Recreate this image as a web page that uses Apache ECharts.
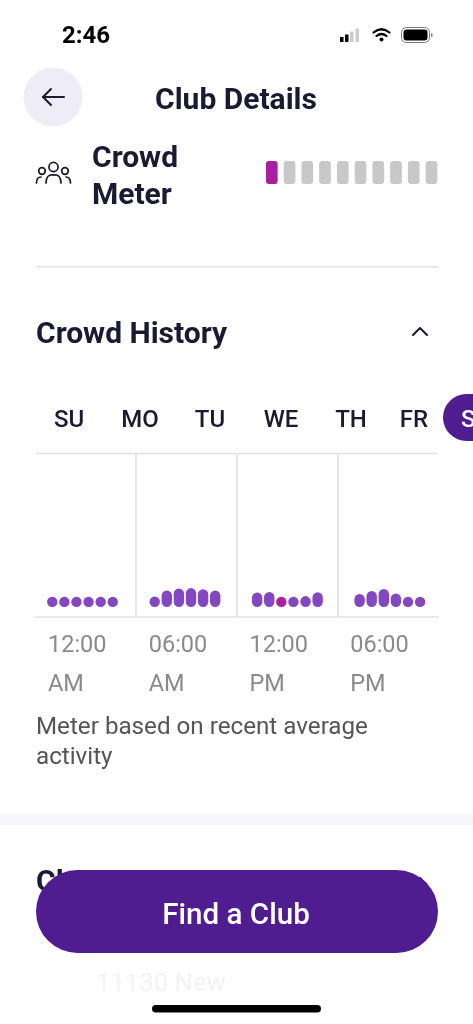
<!DOCTYPE html>
<html style="height: 100%">
    <head>
        <meta charset="utf-8">
        <title>Club Details</title>
        <script type="text/javascript" src="https://cdn.jsdelivr.net/npm/echarts@6/dist/echarts.min.js"></script>
    </head>
    <body style="height: 100%; margin: 0; background: #fff">
        <div id="container" style="width: 473px; height: 1024px"></div>
        <script type="text/javascript">

        // crowd level per hour, one list per 6 hour block
        var block1 = [6.4, 6.4, 6.4, 6.4, 6.4, 6.4];
        var block2 = [6.6, 10.3, 11.6, 11.8, 11.1, 10.3];
        var block3 = [9.0, 9.4, 6.4, 6.4, 6.8, 9.2];
        var block4 = [8.1, 10.0, 11.3, 8.5, 6.4, 6.4];
        var blocks = [block1, block2, block3, block4];
        var blockHours = [
            ['12a', '1a', '2a', '3a', '4a', '5a'],
            ['6a', '7a', '8a', '9a', '10a', '11a'],
            ['12p', '1p', '2p', '3p', '4p', '5p'],
            ['6p', '7p', '8p', '9p', '10p', '11p']
        ];
        var timeLabels = ['12:00\nAM', '06:00\nAM', '12:00\nPM', '06:00\nPM', ''];
        var days = ['SU', 'MO', 'TU', 'WE', 'TH', 'FR'];
        var nowBlock = 2;
        var nowHour = 2;
        var meterSegments = ['1', '2', '3', '4', '5', '6', '7', '8', '9', '10'];
        var meterLevel = [1, 1, 1, 1, 1, 1, 1, 1, 1, 1];
        var meterCurrent = 0;

        var FONT = 'Roboto';
        var DARK = '#1a1a33';
        var PURPLE = '#4f1d8f';

        var dom = document.getElementById("container");
        var myChart = echarts.init(dom, null, {width: 473, height: 1024});

        var grids = [];
        var xAxes = [];
        var yAxes = [];
        var series = [];

        // background grid, only the frame and time labels
        grids.push({left: 35, width: 403, top: 453, height: 164});
        xAxes.push({
            gridIndex: 0,
            type: 'category',
            boundaryGap: false,
            data: timeLabels,
            axisTick: {show: false},
            axisLine: {lineStyle: {color: '#e2e2e2', width: 1.6}},
            splitLine: {show: true, showMinLine: false, showMaxLine: false, interval: 0, lineStyle: {color: '#e2e2e2', width: 1.6}},
            axisLabel: {
                interval: 0,
                align: 'left',
                verticalAlign: 'top',
                margin: 10,
                padding: [0, 0, 0, 13],
                color: '#8a8a8a',
                fontFamily: FONT,
                fontSize: 23.5,
                lineHeight: 39
            }
        });
        yAxes.push({gridIndex: 0, type: 'value', show: false, min: 0, max: 100});

        // one small grid per block so the bars keep their own spacing
        blocks.forEach(function (vals, b) {
            var g = b + 1;
            grids.push({left: 46.2 + 102.45 * b, width: 72.6, top: 447, height: 160});
            xAxes.push({gridIndex: g, type: 'category', data: blockHours[b], show: false});
            yAxes.push({gridIndex: g, type: 'value', show: false, min: 0, max: 100});
            series.push({
                type: 'bar',
                xAxisIndex: g,
                yAxisIndex: g,
                barWidth: 10.4,
                silent: true,
                data: vals.map(function (v, i) {
                    return {
                        value: v,
                        itemStyle: {
                            color: (b === nowBlock && i === nowHour) ? '#a8209c' : '#8247c1',
                            borderRadius: 5.2
                        }
                    };
                })
            });
        });

        // crowd meter
        var mg = grids.length;
        grids.push({left: 262.9, width: 177.5, top: 161, height: 23});
        xAxes.push({gridIndex: mg, type: 'category', data: meterSegments, show: false});
        yAxes.push({gridIndex: mg, type: 'value', show: false, min: 0, max: 1});
        series.push({
            type: 'bar',
            xAxisIndex: mg,
            yAxisIndex: mg,
            barWidth: 11.7,
            silent: true,
            data: meterLevel.map(function (v, i) {
                return {
                    value: v,
                    itemStyle: {color: i === meterCurrent ? '#a8209f' : '#c8c8c8', borderRadius: 3}
                };
            })
        });

        function text(str, x, y, size, weight, color, align, z) {
            return {
                type: 'text',
                z: z || 10,
                style: {
                    text: str, x: x, y: y, fill: color,
                    font: weight + ' ' + size + 'px ' + FONT,
                    textAlign: align || 'left',
                    textVerticalAlign: 'middle'
                }
            };
        }
        function poly(points, color, w, z) {
            return {
                type: 'polyline',
                z: z || 10,
                shape: {points: points},
                style: {stroke: color, lineWidth: w, fill: null, lineCap: 'round', lineJoin: 'round'}
            };
        }
        function curve(x1, y1, cx, cy, x2, y2, color, w) {
            return {
                type: 'bezierCurve',
                z: 10,
                shape: {x1: x1, y1: y1, cpx1: cx, cpy1: cy, x2: x2, y2: y2},
                style: {stroke: color, lineWidth: w, fill: null, lineCap: 'round'}
            };
        }

        var dayX = [69, 140, 210, 281, 351, 414];
        var graphics = [
            // status bar
            text('2:46', 86, 37, 24, 700, '#000', 'center'),
            {type: 'rect', z: 10, shape: {x: 340, y: 37, width: 3.5, height: 5}, style: {fill: '#000'}},
            {type: 'rect', z: 10, shape: {x: 345, y: 34.5, width: 3.5, height: 7.5}, style: {fill: '#000'}},
            {type: 'rect', z: 10, shape: {x: 350, y: 31.5, width: 3.5, height: 10.5}, style: {fill: '#ccc'}},
            {type: 'rect', z: 10, shape: {x: 355.5, y: 28.5, width: 3.5, height: 13.5}, style: {fill: '#ccc'}},
            curve(373.5, 32.5, 381.5, 26, 389.5, 32.5, '#000', 2.2),
            curve(376.5, 36, 381.5, 32, 386.5, 36, '#000', 2.2),
            {type: 'circle', z: 10, shape: {cx: 381.5, cy: 39.5, r: 2}, style: {fill: '#000'}},
            {type: 'rect', z: 10, shape: {x: 401.5, y: 27.5, width: 28, height: 15, r: 5}, style: {fill: 'none', stroke: '#777', lineWidth: 1}},
            {type: 'rect', z: 10, shape: {x: 403.5, y: 29.5, width: 24, height: 11, r: 3}, style: {fill: '#000'}},
            {type: 'rect', z: 10, shape: {x: 431, y: 33, width: 1.5, height: 4, r: 1}, style: {fill: '#888'}},

            // header
            {type: 'circle', z: 10, shape: {cx: 53, cy: 97, r: 29.5}, style: {fill: '#eeecf6'}},
            poly([[43, 97], [64, 97]], DARK, 2),
            poly([[51, 89], [43, 97], [51, 105]], DARK, 2),
            text('Club Details', 236, 101.5, 30, 700, DARK, 'center'),

            // crowd meter title and icon
            text('Crowd', 92, 159, 30, 700, DARK),
            text('Meter', 92, 196, 30, 700, DARK),
            {type: 'circle', z: 10, shape: {cx: 53.5, cy: 167, r: 4.6}, style: {fill: 'none', stroke: DARK, lineWidth: 1.7}},
            {type: 'circle', z: 10, shape: {cx: 42, cy: 171, r: 3.3}, style: {fill: 'none', stroke: DARK, lineWidth: 1.7}},
            {type: 'circle', z: 10, shape: {cx: 65, cy: 171, r: 3.3}, style: {fill: 'none', stroke: DARK, lineWidth: 1.7}},
            curve(46, 183, 46, 174, 53.5, 175, DARK, 1.7),
            curve(53.5, 175, 61, 174, 61, 183, DARK, 1.7),
            curve(36.5, 183, 36.5, 177, 41, 177, DARK, 1.7),
            curve(70.5, 183, 70.5, 177, 66, 177, DARK, 1.7),

            {type: 'rect', z: 1, shape: {x: 36, y: 266, width: 402, height: 1.6}, style: {fill: '#e2e2e2'}},

            // crowd history
            text('Crowd History', 36, 335, 30, 700, DARK),
            poly([[413, 335], [420, 328], [427, 335]], DARK, 2),
            {type: 'rect', z: 1, shape: {x: 36, y: 452.7, width: 402, height: 1.6}, style: {fill: '#e2e2e2'}},
            {type: 'rect', z: 5, shape: {x: 443, y: 394, width: 60, height: 47, r: 23.5}, style: {fill: PURPLE}},
            text('S', 461, 420.5, 24, 500, '#fff'),

            // footnote
            text('Meter based on recent average', 36, 728, 24.2, 400, '#555'),
            text('activity', 36, 758, 24.2, 400, '#555'),

            // next section, mostly covered by the button
            {type: 'rect', z: 1, shape: {x: 0, y: 814, width: 473, height: 11}, style: {fill: '#f6f6fb'}},
            text('Cl', 36, 883, 30, 700, DARK, 'left', 2),
            poly([[413, 885], [420, 878], [427, 885]], DARK, 2, 2),
            {type: 'rect', z: 20, shape: {x: 36, y: 870, width: 402, height: 83, r: 41.5}, style: {fill: PURPLE}},
            text('Find a Club', 236, 916.5, 29.6, 500, '#fff', 'center', 21),
            text('11130 New', 96, 985, 25.7, 400, '#f3f3f6', 'left', 2),
            {type: 'rect', z: 30, shape: {x: 152, y: 1005, width: 169, height: 7.5, r: 3.75}, style: {fill: '#000'}}
        ];
        days.forEach(function (d, i) {
            graphics.push(text(d, dayX[i], 420.5, 24, 500, DARK, 'center'));
        });

        var option = {
            animation: false,
            backgroundColor: '#fff',
            grid: grids,
            xAxis: xAxes,
            yAxis: yAxes,
            series: series,
            graphic: {elements: graphics}
        };
        myChart.setOption(option);

        </script>
    </body>
</html>
